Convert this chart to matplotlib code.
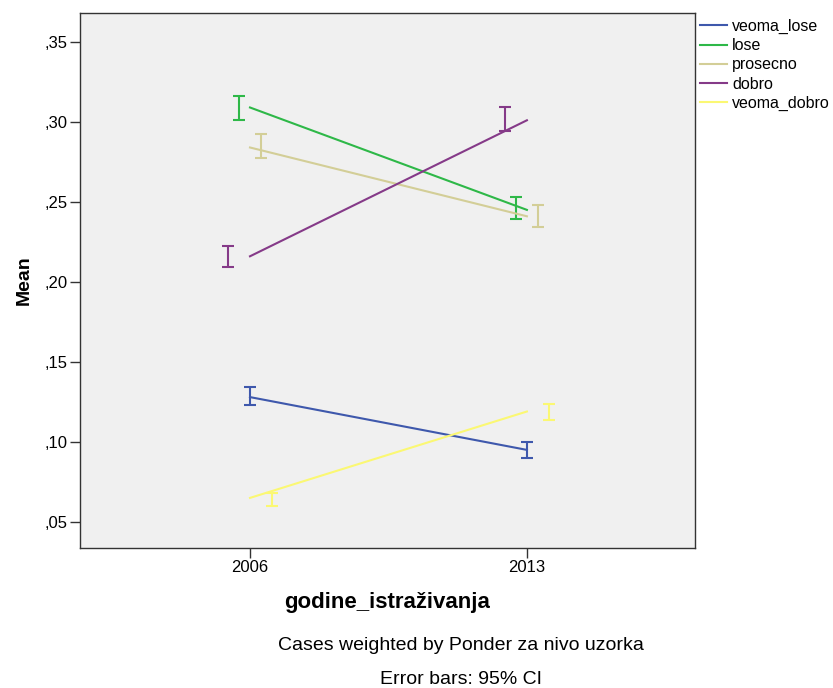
import matplotlib.pyplot as plt
import numpy as np

plt.rcParams["font.family"] = ["Liberation Sans", "DejaVu Sans"]

years = ["2006", "2013"]
groups = ["veoma_lose", "lose", "prosecno", "dobro", "veoma_dobro"]
colors = ["#3e58ac", "#2eb848", "#d3ce97", "#853a88", "#fbf873"]

# means per group (2006, 2013)
means = {
    "veoma_lose": [0.128, 0.095],
    "lose": [0.309, 0.245],
    "prosecno": [0.284, 0.241],
    "dobro": [0.216, 0.301],
    "veoma_dobro": [0.065, 0.119],
}
# 95% CI bounds per group (2006, 2013)
ci_low = {
    "veoma_lose": [0.123, 0.090],
    "lose": [0.301, 0.239],
    "prosecno": [0.2775, 0.234],
    "dobro": [0.209, 0.294],
    "veoma_dobro": [0.060, 0.114],
}
ci_high = {
    "veoma_lose": [0.134, 0.100],
    "lose": [0.316, 0.253],
    "prosecno": [0.2925, 0.248],
    "dobro": [0.2225, 0.309],
    "veoma_dobro": [0.068, 0.124],
}
# horizontal dodge of the error bars
dodge = {"veoma_lose": 0.0, "lose": -0.04, "prosecno": 0.04,
         "dobro": -0.08, "veoma_dobro": 0.08}

fig = plt.figure(figsize=(8.33, 6.88), dpi=100)
fig.patch.set_facecolor("white")
ax = fig.add_axes([0.096, 0.2035, 0.738, 0.7775])
ax.set_facecolor("#f0f0f0")

x = np.arange(len(years))
for name, col in zip(groups, colors):
    m = np.array(means[name])
    lo = np.array(ci_low[name])
    hi = np.array(ci_high[name])
    ax.plot(x, m, color=col, lw=1.5, label=name)
    mid = (lo + hi) / 2
    ax.errorbar(x + dodge[name], mid, yerr=[mid - lo, hi - mid], fmt="none",
                ecolor=col, elinewidth=1.5, capsize=4, capthick=1.5)

ax.set_xlim(-0.614, 1.606)
ax.set_ylim(0.0337, 0.368)
ax.set_xticks(x)
ax.set_xticklabels(years, fontsize=12)
yt = [0.05, 0.10, 0.15, 0.20, 0.25, 0.30, 0.35]
ax.set_yticks(yt)
ax.set_yticklabels(["," + f"{v:.2f}"[2:] for v in yt], fontsize=12)
ax.tick_params(direction="out", length=7, width=1, color="#333333", pad=2)
for s in ax.spines.values():
    s.set_color("#333333")
    s.set_linewidth(1)

ax.set_ylabel("Mean", fontsize=14, fontweight="bold", labelpad=8)
ax.set_xlabel("godine_istraživanja", fontsize=16, fontweight="bold", labelpad=12)

ax.legend(loc="upper left", bbox_to_anchor=(1.0, 1.0), frameon=False,
          fontsize=11.5, handlelength=1.65, handletextpad=0.35,
          labelspacing=0.27, borderaxespad=0.1, borderpad=0.25)

fig.text(0.553, 0.0625, "Cases weighted by Ponder za nivo uzorka",
         ha="center", va="center", fontsize=14)
fig.text(0.553, 0.0125, "Error bars: 95% CI", ha="center", va="center",
         fontsize=14)

fig.savefig("out.png", dpi=100)
